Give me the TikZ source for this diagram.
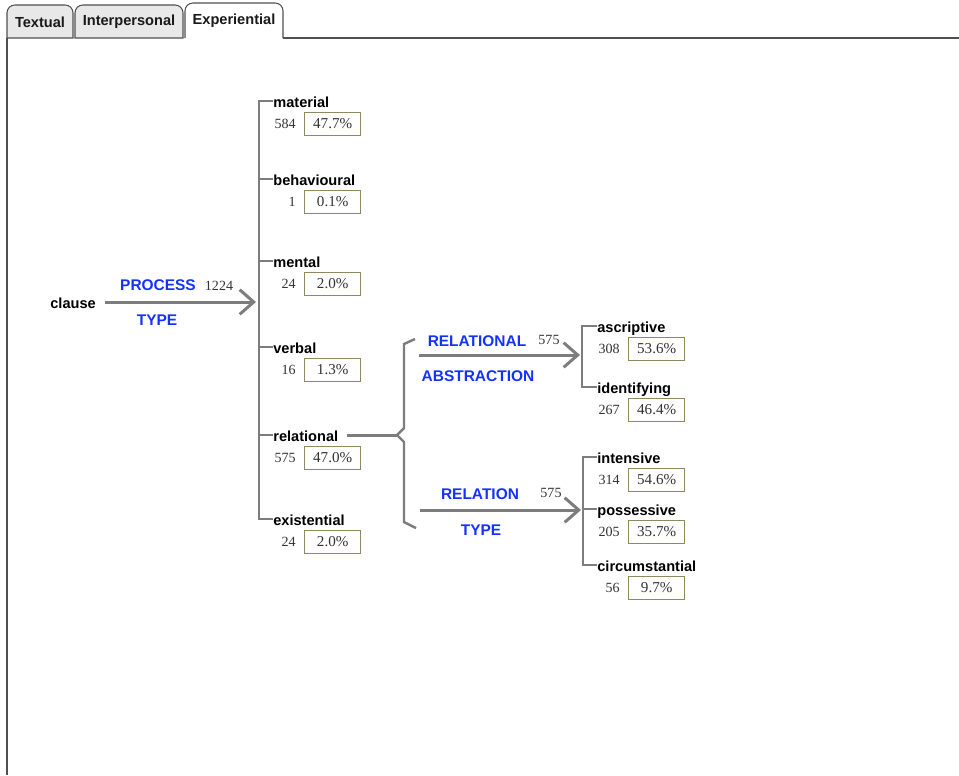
\documentclass[tikz,border=0pt]{standalone}
\usepackage{fontspec}
\setmainfont{Liberation Serif}
\setsansfont{Liberation Sans}
\usetikzlibrary{positioning}
\usetikzlibrary{arrows.meta}
\definecolor{linegrey}{RGB}{125,125,125}
\definecolor{sysblue}{RGB}{20,50,255}
\definecolor{boxolive}{RGB}{140,138,95}
\definecolor{tabgrey}{RGB}{232,232,232}
\definecolor{tabline}{RGB}{80,80,80}
\tikzset{feature/.style={font=\sffamily\bfseries\fontsize{8.3}{9}\selectfont,inner sep=0pt,text height=7pt,text depth=0pt,anchor=west}}
\tikzset{system/.style={font=\sffamily\bfseries\fontsize{8.8}{10}\selectfont,text=sysblue,inner sep=0pt}}
\tikzset{count/.style={font=\fontsize{8}{9}\selectfont,text=black!80,inner sep=0pt}}
\tikzset{percent/.style={count,font=\fontsize{8.6}{9}\selectfont,draw=boxolive,line width=0.8pt,minimum width=1.12cm,minimum height=0.47cm,anchor=west}}
\tikzset{link/.style={draw=linegrey,line width=1.7pt}}
\tikzset{bar/.style={draw=linegrey,line width=1.4pt}}
\tikzset{barb/.style={-{Straight Barb[length=8pt,width=14pt]}}}
\tikzset{tab/.style={draw=tabline,line width=0.6pt,fill=tabgrey}}
\tikzset{tablabel/.style={font=\sffamily\bfseries\fontsize{8.3}{9}\selectfont,text=black!90,inner sep=0pt}}

\begin{document}
\begin{tikzpicture}[x=0.02cm,y=-0.02cm]
    \useasboundingbox (0,0) rectangle (959,775);
    % tabs and panel
    \path[tab] (7,38) [rounded corners=4.5pt] -- (7,5) -- (73,5) [sharp corners] -- (73,38) -- cycle;
    \path[tab] (75,38) [rounded corners=4.5pt] -- (75,5) -- (183,5) [sharp corners] -- (183,38) -- cycle;
    \path[tab,fill=white] (185,38) [rounded corners=4.5pt] -- (185,3) -- (283,3) [sharp corners] -- (283,38);
    \draw[tabline,line width=0.6pt] (283,38) -- (959,38);
    \draw[tabline,line width=0.6pt] (7,38) -- (7,775);
    \node[tablabel] (textualtab) at (40,22) {Textual};
    \node[tablabel] (interpersonaltab) at (129,22) {Interpersonal};
    \node[tablabel] (experientialtab) at (234,21) {Experiential};

    % features, counts and percentages
    \foreach \f/\x/\y/\n/\p in {material/273/101/584/47.7, behavioural/273/179/1/0.1,
        mental/273/261/24/2.0, verbal/273/347/16/1.3, relational/273/435/575/47.0,
        existential/273/519/24/2.0, ascriptive/597/326/308/53.6, identifying/597/387/267/46.4,
        intensive/597/457/314/54.6, possessive/597/509/205/35.7, circumstantial/597/565/56/9.7} {
        \node[feature] (\f) at (\x,\y) {\f};
        \node[percent] (\f-pc) at ([shift={(31,23)}]\f.west) {\p\%};
        \node[count,left=0.16cm of \f-pc] (\f-n) {\n};
    }

    % process type
    \node[feature] (clause) at (50,302) {clause};
    \coordinate (procend) at (256,302);
        \path[link,barb,shorten <=0.18cm] (clause.east) -- (procend);
    \node[system] (process) at (158,285) {PROCESS};
    \node[count] (processn) at (219,286) {1224};
    \node[system] (processtype) at (157,320) {TYPE};
    \path[bar] (material.west) -- ++(-14,0) |- (existential.west);
    \foreach \f in {behavioural,mental,verbal,relational}
        \path[bar] (\f.west) -- ++(-14,0);

    % relational: two simultaneous systems
    \coordinate (relpoint) at (397,435);
        \path[link,shorten <=0.16cm] (relational.east) -- (relpoint);
    \path[bar] (relpoint) -- ++(7,-7) -- ++(0,-84) -- ++(11,-5);
    \path[bar] (relpoint) -- ++(7,7) -- ++(0,80) -- ++(12,6);

    \coordinate (absstart) at (419,355);
    \coordinate (absend) at (580,355);
        \path[link,barb] (absstart) -- (absend);
    \node[system] (relabs) at (477,341) {RELATIONAL};
    \node[count] (relabsn) at (549,340) {575};
    \node[system] (relabstype) at (478,376) {ABSTRACTION};
    \path[bar] (ascriptive.west) -- ++(-15,0) |- (identifying.west);

    \coordinate (typestart) at (420,510);
    \coordinate (typeend) at (581,510);
        \path[link,barb] (typestart) -- (typeend);
    \node[system] (reltype) at (480,494) {RELATION};
    \node[count] (reltypen) at (551,493) {575};
    \node[system] (reltypetype) at (481,530) {TYPE};
    \path[bar] (intensive.west) -- ++(-14,0) |- (circumstantial.west);
    \path[bar] (possessive.west) -- ++(-14,0);
\end{tikzpicture}
\end{document}
